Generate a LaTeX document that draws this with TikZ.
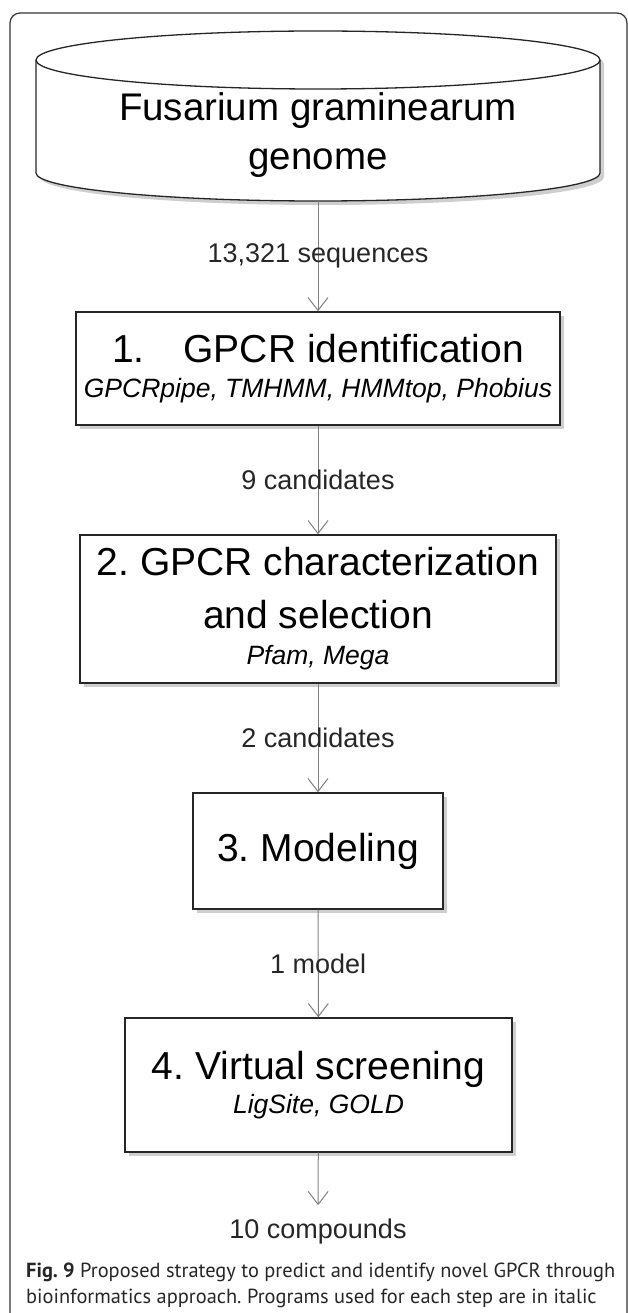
\documentclass[tikz,border=0pt]{standalone}
\usepackage{fontspec}
\setmainfont{Liberation Sans}
\newfontfamily\capfont{PT Sans}
\usetikzlibrary{arrows.meta,shadows}
\frenchspacing

\tikzset{
  frame/.style={draw=black!80, line width=1.2pt},
  dbline/.style={draw=black!85, line width=1.3pt, fill=white},
  dbtext/.style={align=center, inner sep=0pt, font=\fontsize{38.5}{49}\selectfont},
  stepbox/.style={draw=black!85, line width=1.4pt, fill=white, align=center, inner sep=0pt,
    font=\fontsize{39}{53}\selectfont,
    drop shadow={shadow xshift=4pt, shadow yshift=-4pt, opacity=.35, fill=black!55}},
  flow/.style={draw=black!50, line width=1pt, -{Straight Barb[length=13pt, width=20pt, line width=1pt]}},
  flowlabel/.style={inner sep=0pt, text=black!85, font=\fontsize{27}{32}\selectfont},
  caption/.style={align=left, inner sep=0pt, text=black!85, font=\capfont\fontsize{20.4}{26}\selectfont}
}
\newcommand{\progs}[1]{{\fontsize{26.5}{32}\selectfont\itshape #1}}

\begin{document}
\begin{tikzpicture}[x=1pt, y=1pt]
  \useasboundingbox (0,0) rectangle (628,-1313);

  % panel frame
  \draw[frame] (10,-1313) -- (10,-23) arc[start angle=180, end angle=90, radius=10]
    -- (617,-13) arc[start angle=90, end angle=0, radius=10] -- (627,-1313);

  % genome database
  \begin{scope}[shift={(4,-4)}]
    \fill[black!55, opacity=.35] (36,-60) -- (36,-173) arc[start angle=180, end angle=360, x radius=282, y radius=28]
      -- (600,-60) arc[start angle=0, end angle=180, x radius=282, y radius=29] -- cycle;
  \end{scope}
  \filldraw[dbline] (36,-60) -- (36,-173) arc[start angle=180, end angle=360, x radius=282, y radius=28]
    -- (600,-60) arc[start angle=0, end angle=180, x radius=282, y radius=29] -- cycle;
  \draw[dbline, fill=none] (36,-60) arc[start angle=180, end angle=360, x radius=282, y radius=29];
  \node[dbtext] (genome) at (318,-135) {Fusarium graminearum\\genome};
  \coordinate (dbase) at (318,-201);

  % steps
  \node[stepbox, minimum width=484pt, minimum height=113pt] (identify) at (318,-368.5)
    {1.\hspace{1em}GPCR identification\\[-18pt]\progs{GPCRpipe, TMHMM, HMMtop, Phobius}};
  \node[stepbox, minimum width=476pt, minimum height=148pt] (select) at (318,-609)
    {2. GPCR characterization\\and selection\\[-17pt]\progs{Pfam, Mega}};
  \node[stepbox, minimum width=250pt, minimum height=116pt] (model) at (318,-851)
    {3. Modeling};
  \node[stepbox, minimum width=387pt, minimum height=134pt] (screen) at (318.5,-1085)
    {4. Virtual screening\\[-19pt]\progs{LigSite, GOLD}};
  \node[flowlabel, anchor=base] (hits) at (318,-1238) {10 compounds};

  % flow
  \draw[flow] (dbase) -- node[flowlabel] {13,321 sequences} (identify);
  \draw[flow] (identify) -- node[flowlabel] {9 candidates} (select);
  \draw[flow] (select) -- node[flowlabel] {2 candidates} (model);
  \draw[flow] (model) -- node[flowlabel] {1 model} (screen);
  \draw[flow, shorten >=13pt] (screen) -- (hits);

  % caption
  \node[caption, anchor=north west] (figcap) at (26,-1263)
    {\textbf{Fig. 9} Proposed strategy to predict and identify novel GPCR through\\bioinformatics approach. Programs used for each step are in italic};
\end{tikzpicture}
\end{document}
